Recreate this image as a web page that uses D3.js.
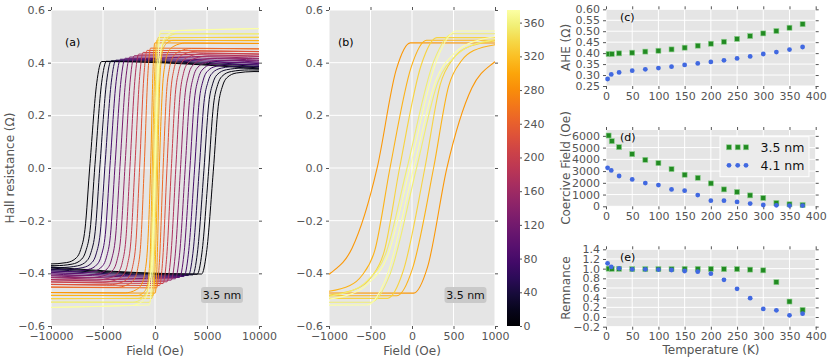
<!DOCTYPE html>
<html><head><meta charset="utf-8">
<script src="https://cdn.jsdelivr.net/npm/d3@7"></script>
<style>body{margin:0;background:#fff} svg{display:block} text{font-family:"DejaVu Sans",sans-serif}</style>
</head><body>
<svg id="chart" width="830" height="362"></svg>
<script>
// ---------- Hysteresis loops (3.5 nm), panels (a) and (b) ----------
const loopTemps   = [5, 10, 25, 50, 75, 100, 125, 150, 175, 200, 225, 250, 290, 310, 335, 355, 375];
const loopHcLeft  = [-6250, -5770, -5290, -4810, -4330, -3850, -3370, -2890, -2410, -1940, -1480, -1040, -420, -265, -150, -60, -25];
const loopHcRight = [5600, 5150, 4700, 4250, 3800, 3350, 2900, 2450, 2000, 1570, 1150, 780, 420, 260, 155, 55, 20];
const loopRise    = [1120, 1100, 1080, 1050, 1020, 990, 950, 900, 850, 800, 720, 620, 400, 440, 450, 550, 560];
const loopTail    = [1120, 1100, 1080, 1060, 1040, 1020, 990, 960, 920, 880, 830, 780, 700, 420, 430, 600, 620];
const loopRs      = [0.391, 0.394, 0.398, 0.402, 0.407, 0.412, 0.418, 0.424, 0.431, 0.438, 0.446, 0.455, 0.475, 0.485, 0.495, 0.510, 0.520];
const loopSlope   = [-0.026, -0.024, -0.022, -0.020, -0.018, -0.016, -0.014, -0.012, -0.010, -0.008, -0.006, -0.004, -0.003, -0.002, 0.001, -0.001, 0.007]; // per 10^4 Oe
// switching shape read from the loops: [offset / width, normalised M]
const shapeRise = [[1, 1], [0.58, 0.79], [0, 0]];
const shapeTail = [[-0.43, -0.64], [-0.8, -0.84], [-1.15, -0.92], [-2, -0.975], [-3.5, -1]];
const panelBLoops = [12, 13, 14, 15, 16];

// ---------- Temperature dependence, panels (c)(d)(e) ----------
const temps35 = [5, 11, 25, 50, 75, 100, 125, 150, 175, 200, 225, 250, 275, 300, 325, 350, 375];
const temps41 = [3, 10, 25, 50, 75, 100, 125, 150, 175, 200, 225, 250, 275, 300, 325, 350, 375];
const ahe35 = [0.396, 0.396, 0.399, 0.402, 0.407, 0.411, 0.417, 0.425, 0.434, 0.443, 0.452, 0.465, 0.478, 0.490, 0.501, 0.516, 0.532];
const ahe41 = [0.282, 0.303, 0.312, 0.320, 0.326, 0.332, 0.338, 0.346, 0.353, 0.360, 0.367, 0.376, 0.385, 0.396, 0.405, 0.416, 0.428];
const hc35 = [6030, 5550, 5040, 4440, 3960, 3680, 3170, 2690, 2430, 1950, 1440, 1220, 930, 710, 280, 170, 110];
const hc41 = [3280, 3060, 2580, 2290, 1980, 1810, 1440, 1330, 960, 480, 480, 370, 230, 110, 85, 60, 60];
const rem35 = [1.0, 0.995, 0.995, 0.99, 0.99, 0.99, 0.99, 0.995, 0.995, 0.995, 0.99, 0.99, 0.98, 0.965, 0.72, 0.32, 0.146];
const rem41 = [1.11, 1.035, 1.007, 0.986, 0.986, 0.98, 0.972, 0.951, 0.937, 0.896, 0.77, 0.583, 0.39, 0.167, 0.139, 0.035, 0.07];

const ticksA_x = [-10000, -5000, 0, 5000, 10000];
const ticksB_x = [-1000, -500, 0, 500, 1000];
const ticksR   = [-0.6, -0.4, -0.2, 0.0, 0.2, 0.4, 0.6];
const ticksCbar = [0, 40, 80, 120, 160, 200, 240, 280, 320, 360];
const ticksT   = [0, 50, 100, 150, 200, 250, 300, 350, 400];
const ticksAHE = [0.25, 0.30, 0.35, 0.40, 0.45, 0.50, 0.55, 0.60];
const ticksHc  = [0, 1000, 2000, 3000, 4000, 5000, 6000];
const ticksRem = [-0.2, 0.0, 0.2, 0.4, 0.6, 0.8, 1.0, 1.2, 1.4];

const svg = d3.select("#chart");
const GREY = "#555555", BG = "#e5e5e5";
const color = t => d3.interpolateInferno(t / 375);

function panel(x, y, xt, yt, xf, yf) {
  const g = svg.append("g");
  const [x0, x1] = x.range(), [y0, y1] = y.range();
  g.append("rect").attr("x", x0).attr("y", y1).attr("width", x1 - x0).attr("height", y0 - y1).attr("fill", BG);
  g.selectAll(".gx").data(xt).join("line").attr("x1", d => x(d)).attr("x2", d => x(d)).attr("y1", y0).attr("y2", y1).attr("stroke", "#fff").attr("stroke-width", 1);
  g.selectAll(".gy").data(yt).join("line").attr("y1", d => y(d)).attr("y2", d => y(d)).attr("x1", x0).attr("x2", x1).attr("stroke", "#fff").attr("stroke-width", 1);
  const style = a => { a.select(".domain").remove(); a.selectAll("line").attr("stroke", GREY); a.selectAll("text").attr("fill", GREY).style("font-size", "11px").style("font-family", "DejaVu Sans"); };
  svg.append("g").attr("transform", `translate(0,${y0})`).call(d3.axisBottom(x).tickValues(xt).tickSize(3).tickPadding(3).tickFormat(xf)).call(style);
  svg.append("g").attr("transform", `translate(0,${y1})`).call(d3.axisTop(x).tickValues(xt).tickSize(3).tickFormat("")).call(style);
  svg.append("g").attr("transform", `translate(${x0},0)`).call(d3.axisLeft(y).tickValues(yt).tickSize(3).tickPadding(3).tickFormat(yf)).call(style);
  svg.append("g").attr("transform", `translate(${x1},0)`).call(d3.axisRight(y).tickValues(yt).tickSize(3).tickFormat("")).call(style);
  return g;
}
function ylabel(txt, x, y) {
  svg.append("text").attr("transform", `translate(${x},${y}) rotate(-90)`).attr("text-anchor", "middle").attr("dy", "0.35em")
    .attr("fill", GREY).style("font-size", "12px").text(txt);
}
function xlabel(txt, x, y) {
  svg.append("text").attr("x", x).attr("y", y).attr("text-anchor", "middle").attr("fill", GREY).style("font-size", "12px").text(txt);
}
function tag(txt, x, y) {
  svg.append("text").attr("x", x).attr("y", y).attr("fill", "#000").style("font-size", "11px").text(txt);
}
function nmBox(cx, cy) {
  svg.append("rect").attr("x", cx - 21).attr("y", cy - 8).attr("width", 42).attr("height", 16).attr("rx", 3).attr("fill", "#c9c9c9");
  svg.append("text").attr("x", cx).attr("y", cy).attr("dy", "0.36em").attr("text-anchor", "middle").attr("fill", "#111").style("font-size", "11px").text("3.5 nm");
}

// build branch vertices from the read loop parameters
function branch(i, dir) {
  const a = loopRise[i], b = loopTail[i], rs = loopRs[i], k = loopSlope[i] / 1e4;
  const c = dir < 0 ? loopHcLeft[i] : loopHcRight[i];
  const pts = [[1e9, 1]].concat(shapeRise.map(s => [s[0] * a, s[1]]), shapeTail.map(s => [s[0] * b, s[1]]), [[-1e9, -1]]);
  let v = pts.map(([u, m]) => {
    let H, M;
    if (dir < 0) { H = Math.abs(u) > 1e8 ? Math.sign(u) * 20000 : c + u; M = m; }
    else { H = Math.abs(u) > 1e8 ? -Math.sign(u) * 20000 : c - u; M = -m; }
    return [H, rs * M + k * H];
  });
  v.sort((p, q) => p[0] - q[0]);
  return v;
}

// ---------- Panel (a) ----------
const xA = d3.scaleLinear([-10000, 10000], [51, 259]);
const yA = d3.scaleLinear([-0.6, 0.6], [326, 10]);
panel(xA, yA, ticksA_x, ticksR, d3.format("d"), d3.format(".1f"));
svg.append("clipPath").attr("id", "clipA").append("rect").attr("x", 51).attr("y", 10).attr("width", 208).attr("height", 316);
const gA = svg.append("g").attr("clip-path", "url(#clipA)");
const lineA = d3.line().x(d => xA(d[0])).y(d => yA(d[1])).curve(d3.curveMonotoneX);
loopTemps.forEach((t, i) => {
  [-1, 1].forEach(dir => gA.append("path").attr("d", lineA(branch(i, dir))).attr("fill", "none").attr("stroke", color(t)).attr("stroke-width", 1));
});
tag("(a)", 65, 45.5);
nmBox(222, 295);
ylabel("Hall resistance (Ω)", 10, 168);
xlabel("Field (Oe)", 155, 355);

// ---------- Panel (b) ----------
const xB = d3.scaleLinear([-1000, 1000], [329, 495]);
panel(xB, yA, ticksB_x, ticksR, d3.format("d"), d3.format(".1f"));
svg.append("clipPath").attr("id", "clipB").append("rect").attr("x", 329).attr("y", 10).attr("width", 166).attr("height", 316);
const gB = svg.append("g").attr("clip-path", "url(#clipB)");
const lineB = d3.line().x(d => xB(d[0])).y(d => yA(d[1])).curve(d3.curveMonotoneX);
panelBLoops.forEach(i => {
  [-1, 1].forEach(dir => gB.append("path").attr("d", lineB(branch(i, dir))).attr("fill", "none").attr("stroke", color(loopTemps[i])).attr("stroke-width", 1.1));
});
tag("(b)", 338, 45.5);
nmBox(465.5, 295);
xlabel("Field (Oe)", 412, 355);

// ---------- Colorbar ----------
const yCb = d3.scaleLinear([0, 375], [326, 10]);
const grad = svg.append("defs").append("linearGradient").attr("id", "cbg").attr("x1", 0).attr("y1", 1).attr("x2", 0).attr("y2", 0);
d3.range(0, 1.0001, 0.05).forEach(s => grad.append("stop").attr("offset", s).attr("stop-color", d3.interpolateInferno(s)));
svg.append("rect").attr("x", 507).attr("y", 10).attr("width", 13).attr("height", 316).attr("fill", "url(#cbg)");
svg.append("g").attr("transform", "translate(520,0)").call(d3.axisRight(yCb).tickValues(ticksCbar).tickSize(2).tickPadding(1.5))
  .call(a => { a.select(".domain").remove(); a.selectAll("line").attr("stroke", GREY); a.selectAll("text").attr("fill", GREY).style("font-size", "11px"); });

// ---------- Panels (c)(d)(e) ----------
const xT = d3.scaleLinear([0, 400], [606, 815.7]);
const yAHE = d3.scaleLinear([0.25, 0.60], [86, 9.3]);
const yHc = d3.scaleLinear([0, 6500], [206.3, 130]);
const yRem = d3.scaleLinear([-0.2, 1.4], [326.7, 249.3]);
function scatter(y, t35, v35, t41, v41) {
  const g = svg.append("g");
  g.selectAll(".sq").data(v35).join("rect").attr("x", (d, i) => xT(t35[i]) - 2.5).attr("y", d => y(d) - 2.5).attr("width", 5).attr("height", 5)
    .attr("fill", "#228b22").attr("stroke", "#8fcf8f").attr("stroke-width", 0.6);
  g.selectAll(".ci").data(v41).join("circle").attr("cx", (d, i) => xT(t41[i])).attr("cy", d => y(d)).attr("r", 2.4).attr("fill", "#4169e1");
}
panel(xT, yAHE, ticksT, ticksAHE, d3.format("d"), d3.format(".2f"));
scatter(yAHE, temps35, ahe35, temps41, ahe41);
tag("(c)", 620, 20.5);
ylabel("AHE (Ω)", 566, 47.5);

panel(xT, yHc, ticksT, ticksHc, d3.format("d"), d3.format("d"));
scatter(yHc, temps35, hc35, temps41, hc41);
tag("(d)", 620, 140.5);
ylabel("Coercive Field (Oe)", 566, 168);
// legend
svg.append("rect").attr("x", 720).attr("y", 136.7).attr("width", 89).attr("height", 40).attr("fill", "#ebebeb").attr("stroke", "#fff").attr("stroke-width", 1);
[729, 737.7, 746].forEach(x => {
  svg.append("rect").attr("x", x - 2.5).attr("y", 147.3 - 2.5).attr("width", 5).attr("height", 5).attr("fill", "#228b22").attr("stroke", "#8fcf8f").attr("stroke-width", 0.6);
  svg.append("circle").attr("cx", x).attr("cy", 165.3).attr("r", 2.4).attr("fill", "#4169e1");
});
svg.append("text").attr("x", 760.5).attr("y", 151.8).attr("fill", "#111").style("font-size", "12.5px").text("3.5 nm");
svg.append("text").attr("x", 760.5).attr("y", 169.6).attr("fill", "#111").style("font-size", "12.5px").text("4.1 nm");

panel(xT, yRem, ticksT, ticksRem, d3.format("d"), d3.format(".1f"));
scatter(yRem, temps35, rem35, temps41, rem41);
tag("(e)", 620, 260.5);
ylabel("Remnance", 566, 288);
xlabel("Temperature (K)", 711, 354);
</script>
</body></html>
